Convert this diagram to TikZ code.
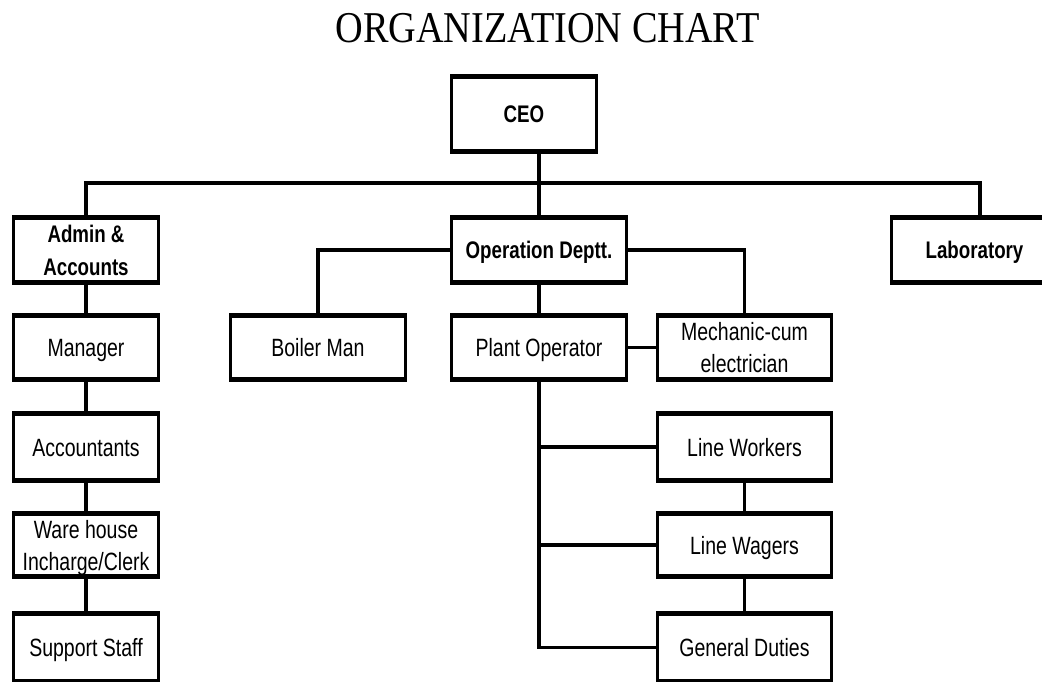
\documentclass[tikz,border=0pt]{standalone}
\usepackage{fontspec}
\setmainfont{Liberation Sans}[FakeStretch=0.78]
\newfontfamily\titlefont{Liberation Serif}[FakeStretch=0.87]
\begin{document}
\begin{tikzpicture}[x=1pt,y=-1pt,
  box/.style={draw, line width=3pt, fill=white, inner sep=0pt, outer sep=0pt, align=center,
    text height=18pt, text depth=0pt, font=\fontsize{25}{32}\selectfont},
  bbox/.style={box, text height=17pt, font=\fontsize{24}{33}\selectfont\bfseries},
  twoline/.style={text height=50pt},
  edge/.style={line width=5pt, shorten <=-1.5pt, shorten >=-1.5pt},
  conn/.style={line width=3.5pt}]
\useasboundingbox (0,0) rectangle (1042,681);
\node[anchor=base, font=\titlefont\fontsize{44}{50}\selectfont] (title) at (547.5,42) {ORGANIZATION CHART};
% level 0-1
\node[bbox, minimum width=145pt, minimum height=75pt] (ceo) at (524,114) {CEO};
\node[bbox, twoline, minimum width=145pt, minimum height=65pt] (admin) at (86,250) {Admin \&\\Accounts};
\node[bbox, minimum width=175pt, minimum height=65pt] (op) at (539,250) {Operation Deptt.};
\node[bbox, minimum width=166pt, minimum height=65pt] (lab) at (974.5,250) {Laboratory};
% row 2
\node[box, minimum width=145pt, minimum height=64pt] (manager) at (86,347.5) {Manager};
\node[box, minimum width=175pt, minimum height=64pt] (boiler) at (318,347.5) {Boiler Man};
\node[box, minimum width=175pt, minimum height=64pt] (plant) at (539,347.5) {Plant Operator};
\node[box, twoline, minimum width=174pt, minimum height=64pt] (mech) at (744.5,347.5) {Mechanic-cum\\electrician};
% row 3
\node[box, minimum width=145pt, minimum height=67pt] (acc) at (86,447) {Accountants};
\node[box, minimum width=174pt, minimum height=67pt] (lw) at (744.5,447) {Line Workers};
% row 4
\node[box, twoline, minimum width=145pt, minimum height=63pt] (ware) at (86,545) {Ware house\\Incharge/Clerk};
\node[box, minimum width=174pt, minimum height=63pt] (lwag) at (744.5,545) {Line Wagers};
% row 5
\node[box, minimum width=145pt, minimum height=68pt] (supp) at (86,647.5) {Support Staff};
\node[box, minimum width=174pt, minimum height=68pt] (gd) at (744.5,647.5) {General Duties};
% thick top and bottom edges
\foreach \n in {ceo,admin,op,lab,manager,boiler,plant,mech,acc,lw,ware,lwag,supp,gd}{
  \draw[edge] (\n.north west) -- (\n.north east);
  \draw[edge] (\n.south west) -- (\n.south east);
}
% connectors
\coordinate (bar) at (539,183);
\draw[conn] (ceo.south -| op.north) -- (op.north);
\draw[conn] (admin.north) -- (admin.north |- bar) -- ([xshift=5.5pt]lab.north |- bar) -- ([xshift=5.5pt]lab.north);
\draw[conn] (op.west) -| (boiler.north);
\draw[conn] (op.east) -| (mech.north);
\draw[conn] (op.south) -- (plant.north);
\draw[conn] (plant.east) -- (mech.west);
\draw[conn] (plant.south) |- (gd.west);
\draw[conn] (plant.south |- lw.west) -- (lw.west);
\draw[conn] (plant.south |- lwag.west) -- (lwag.west);
\draw[conn] (admin.south) -- (manager.north);
\draw[conn] (manager.south) -- (acc.north);
\draw[conn] (acc.south) -- (ware.north);
\draw[conn] (ware.south) -- (supp.north);
\draw[conn] (lw.south) -- (lwag.north);
\draw[conn] (lwag.south) -- (gd.north);
\end{tikzpicture}
\end{document}
